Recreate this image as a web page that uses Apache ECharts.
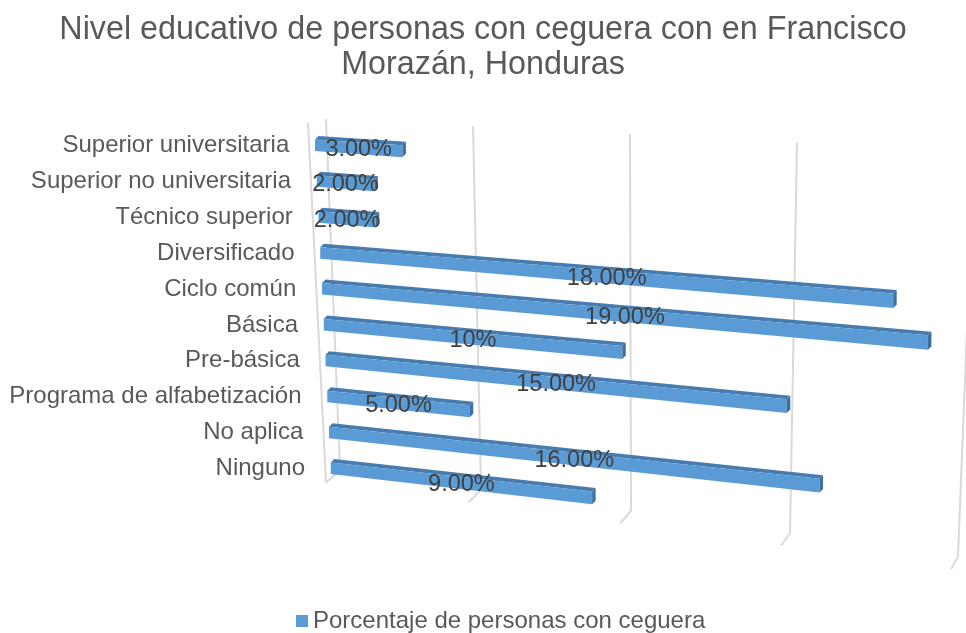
<!DOCTYPE html>
<html>
<head>
<meta charset="utf-8">
<script src="https://cdn.jsdelivr.net/npm/echarts@6/dist/echarts.min.js"></script>
<style>
  html, body { margin: 0; padding: 0; background: #fff; }
  #chart { width: 966px; height: 633px; }
</style>
</head>
<body>
<div id="chart"></div>
<script>
// categorías de arriba hacia abajo
const categories = [
  'Superior universitaria',
  'Superior no universitaria',
  'Técnico superior',
  'Diversificado',
  'Ciclo común',
  'Básica',
  'Pre-básica',
  'Programa de alfabetización',
  'No aplica',
  'Ninguno'
];
const values = [3, 2, 2, 18, 19, 10, 15, 5, 16, 9];
const valueLabels = ['3.00%', '2.00%', '2.00%', '18.00%', '19.00%', '10%', '15.00%', '5.00%', '16.00%', '9.00%'];
const xTicks = [0, 5, 10, 15, 20];
const seriesName = 'Porcentaje de personas con ceguera';

const FONT = "'Liberation Sans', Arial, sans-serif";
const BLUE = '#5b9bd5';

// vista en perspectiva: las barras bajan hacia la derecha
function spread(u, r) {
  return (28.5 - 0.15 * r) * u + 0.21 * u * u;
}

function renderBar(params, api) {
  const v = api.value(0);
  const r = api.value(1);
  const p0 = api.coord([0, r]);
  const p1 = api.coord([v, r]);
  const unit = api.coord([1, r])[0] - p0[0];
  const u = (p1[0] - p0[0]) / unit;
  const len = spread(u, r);
  const slope = 0.066 + 0.005 * r;
  const xL = p0[0] + 1.75 * r;
  const xR = xL + len;
  const yT = p0[1] - 6;
  const yTR = yT + slope * len;
  const hL = 11.5;
  const hR = 11.5 + 3 * len / 600;
  const d = 3.5;
  return {
    type: 'group',
    children: [
      {
        type: 'polygon',
        shape: { points: [[xL, yT], [xR, yTR], [xR + d, yTR - d], [xL + d, yT - d]] },
        style: { fill: '#467cb0' }
      },
      {
        type: 'polygon',
        shape: { points: [[xL, yT], [xR, yTR], [xR, yTR + hR], [xL, yT + hL]] },
        style: { fill: BLUE }
      },
      {
        type: 'polygon',
        shape: { points: [[xR, yTR], [xR + d, yTR - d], [xR + d, yTR + hR - d], [xR, yTR + hR]] },
        style: { fill: '#3f6f9e' }
      },
      {
        type: 'text',
        style: {
          x: xL + len / 2,
          y: yT + slope * len / 2 + (hL + hR) / 4 + 1.5,
          text: valueLabels[params.dataIndex],
          fill: '#404040',
          font: '23.5px ' + FONT,
          align: 'center',
          verticalAlign: 'middle'
        }
      }
    ]
  };
}

function renderGrid(params, api) {
  const v = api.value(0);
  const cs = params.coordSys;
  const unit = api.coord([1, 0])[0] - api.coord([0, 0])[0];
  const u = (api.coord([v, 0])[0] - cs.x) / unit;
  const dt = 28.4 * u + 0.2 * u * u;
  const db = 27.3 * u + 0.18 * u * u;
  const tx = cs.x + 11 + dt, ty = cs.y - 8.5 + 0.05 * dt;
  const bx = cs.x + 25 + db, by = cs.y + cs.height - 16.5 + 0.14 * db;
  const fx = bx - 14 + 0.35 * u, fy = by + 12.5;
  const lineStyle = { stroke: '#d9d9d9', lineWidth: 2, fill: null };
  const children = [{
    type: 'polyline',
    shape: { points: [[tx, ty], [bx, by], [fx, fy]] },
    style: lineStyle
  }];
  if (params.dataIndex === 0) {
    children.push({
      type: 'line',
      shape: { x1: cs.x - 7, y1: cs.y - 4.5, x2: fx, y2: fy },
      style: lineStyle
    });
  }
  return { type: 'group', children: children };
}

const rich = {};
categories.forEach((c, i) => {
  rich['r' + i] = {
    fontSize: 24,
    fontFamily: FONT,
    color: '#595959',
    padding: [0, (categories.length - 1 - i) * 1.75, 0, 0]
  };
});

const chart = echarts.init(document.getElementById('chart'));
chart.setOption({
  animation: false,
  backgroundColor: '#fff',
  title: {
    text: 'Nivel educativo de personas con ceguera con en Francisco\nMorazán, Honduras',
    left: 'center',
    top: 12.5,
    padding: [0, 0, 0, 13],
    textStyle: {
      fontFamily: FONT,
      fontSize: 32.3,
      fontWeight: 'normal',
      color: '#595959',
      lineHeight: 35
    }
  },
  legend: {
    data: [seriesName],
    left: 296,
    top: 608,
    padding: 0,
    icon: 'rect',
    itemWidth: 12,
    itemHeight: 12,
    itemGap: 5,
    textStyle: { fontFamily: FONT, fontSize: 24, color: '#595959', lineHeight: 26 }
  },
  grid: { left: 315, width: 570, top: 127.5, height: 359 },
  xAxis: {
    type: 'value',
    min: 0,
    max: 20,
    interval: 5,
    show: false
  },
  yAxis: {
    type: 'category',
    inverse: true,
    data: categories,
    axisLine: { show: false },
    axisTick: { show: false },
    splitLine: { show: false },
    axisLabel: {
      interval: 0,
      margin: 10,
      formatter: (val, idx) => '{r' + idx + '|' + val + '}',
      rich: rich
    }
  },
  series: [
    {
      type: 'custom',
      silent: true,
      clip: false,
      renderItem: renderGrid,
      encode: { x: 0, y: 1 },
      data: xTicks.map(t => [t, 0])
    },
    {
      name: seriesName,
      type: 'custom',
      clip: false,
      itemStyle: { color: BLUE },
      renderItem: renderBar,
      encode: { x: 0, y: 1 },
      data: values.map((v, i) => [v, i])
    }
  ]
});
</script>
</body>
</html>
